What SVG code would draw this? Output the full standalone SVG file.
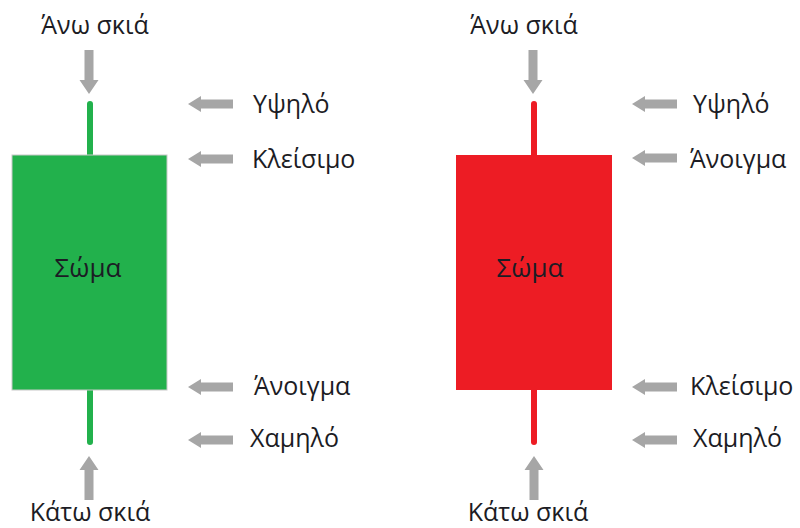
<svg xmlns="http://www.w3.org/2000/svg" width="800" height="528" viewBox="0 0 800 528">
  <style>
    .lbl { font-family: "Open Sans", "Noto Sans", sans-serif; font-size: 25px; fill: #1c1c24; }
    .body-lbl { font-family: "Open Sans", "Noto Sans", sans-serif; font-size: 26px; fill: #1c1c24; text-anchor: middle; }
    .mid { text-anchor: middle; }
    .arrow { fill: #a6a6a6; }
  </style>
  <defs>
    <!-- gray block arrow pointing left, tip at origin -->
    <path id="arrL" d="M0,0 L13,-8 L13,-4.5 L45,-4.5 L45,4.5 L13,4.5 L13,8 Z"/>
    <!-- gray block arrow pointing down, tip at origin -->
    <path id="arrD" d="M0,0 L-9.5,-14 L-4.5,-14 L-4.5,-44 L4.5,-44 L4.5,-14 L9.5,-14 Z"/>
  </defs>

  <!-- bullish candle -->
  <g id="green-candle">
    <rect x="87" y="101" width="6" height="344" rx="3" fill="#22b14c"/>
    <rect x="12" y="155" width="155" height="235" fill="#22b14c" stroke="#c8c8c8" stroke-width="1"/>
    <text class="body-lbl" x="88" y="277">Σώμα</text>
  </g>

  <!-- bearish candle -->
  <g id="red-candle">
    <rect x="531" y="101" width="6" height="344" rx="3" fill="#ed1c24"/>
    <rect x="456" y="155" width="156" height="235" fill="#ed1c24"/>
    <text class="body-lbl" x="530" y="277">Σώμα</text>
  </g>

  <!-- labels -->
  <g id="green-labels">
    <text class="lbl mid" x="95" y="34">Άνω σκιά</text>
    <text class="lbl" x="253" y="113">Υψηλό</text>
    <text class="lbl" x="252" y="168">Κλείσιμο</text>
    <text class="lbl" x="254" y="395">Άνοιγμα</text>
    <text class="lbl" x="250" y="447">Χαμηλό</text>
    <text class="lbl mid" x="90" y="521">Κάτω σκιά</text>
  </g>
  <g id="red-labels">
    <text class="lbl mid" x="524" y="34">Άνω σκιά</text>
    <text class="lbl" x="693" y="113">Υψηλό</text>
    <text class="lbl" x="690" y="168">Άνοιγμα</text>
    <text class="lbl" x="690" y="395">Κλείσιμο</text>
    <text class="lbl" x="693" y="447">Χαμηλό</text>
    <text class="lbl mid" x="528" y="521">Κάτω σκιά</text>
  </g>

  <!-- pointer arrows -->
  <g id="connectors" class="arrow">
    <use href="#arrD" x="89" y="94"/>
    <use href="#arrD" x="89" y="456" transform="rotate(180 89 456)"/>
    <use href="#arrL" x="188" y="104"/>
    <use href="#arrL" x="188" y="159"/>
    <use href="#arrL" x="188" y="387"/>
    <use href="#arrL" x="188" y="440"/>

    <use href="#arrD" x="533" y="94"/>
    <use href="#arrD" x="534" y="456" transform="rotate(180 534 456)"/>
    <use href="#arrL" x="632" y="104"/>
    <use href="#arrL" x="632" y="158"/>
    <use href="#arrL" x="632" y="387"/>
    <use href="#arrL" x="632" y="440"/>
  </g>
</svg>
